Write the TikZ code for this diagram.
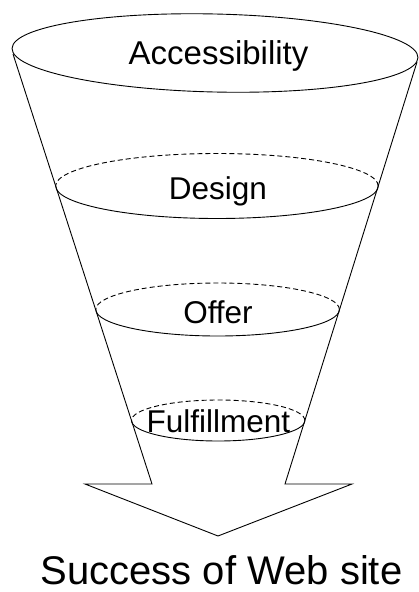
\documentclass[tikz,border=0pt]{standalone}
\usepackage{fontspec}
\setmainfont{Liberation Sans}
\begin{document}
\begin{tikzpicture}[x=1pt,y=1pt,
  ln/.style={line width=0.9pt,black},
  dsh/.style={ln,dash pattern=on 5pt off 3pt},
  lbl/.style={inner sep=0pt,anchor=base,font=\fontsize{31.5}{36}\selectfont},
  biglbl/.style={inner sep=0pt,anchor=base,font=\fontsize{40}{46}\selectfont}]
\useasboundingbox (0,0) rectangle (418,-592);
% funnel outline with arrow head
\draw[ln,line join=miter] (13,-54) -- (152,-484) -- (85,-484) -- (218,-536) -- (352,-484) -- (285,-484) -- (417,-62);
% top ellipse
\draw[ln,rotate around={-1.3:(215,-53)}] (215,-53) ellipse [x radius=203, y radius=39];
% Design
\draw[dsh] (378.2,-186) arc[start angle=0,end angle=180,x radius=161.3,y radius=32.5];
\draw[ln] (55.7,-186) arc[start angle=180,end angle=360,x radius=161.3,y radius=32.5];
% Offer
\draw[dsh] (339.4,-309.5) arc[start angle=0,end angle=180,x radius=121.8,y radius=26.5];
\draw[ln] (95.8,-309.5) arc[start angle=180,end angle=360,x radius=121.8,y radius=26.5];
% Fulfillment
\draw[dsh] (304.9,-420.5) arc[start angle=0,end angle=180,x radius=86.7,y radius=20.5];
\draw[ln] (131.5,-420.5) arc[start angle=180,end angle=360,x radius=86.7,y radius=20.5];
% labels
\node[lbl,font=\fontsize{33}{38}\selectfont] (acc) at (218.5,-64) {Accessibility};
\node[lbl] (des) at (218,-199) {Design};
\node[lbl] (off) at (218,-323) {Offer};
\node[lbl] (ful) at (218.5,-432) {Fulfillment};
\node[biglbl] (suc) at (221.5,-584) {Success of Web site};
\end{tikzpicture}
\end{document}
